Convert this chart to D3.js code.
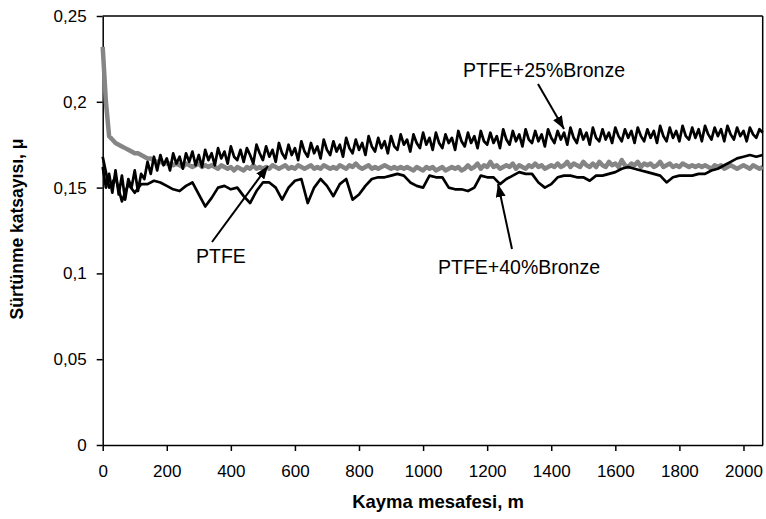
<!DOCTYPE html>
<html>
<head>
<meta charset="utf-8">
<script src="https://cdn.jsdelivr.net/npm/d3@7"></script>
<style>
  body { margin: 0; background: #fff; }
  svg { display: block; font-family: "Liberation Sans", Arial, sans-serif; }
</style>
</head>
<body>
<svg id="chart" width="766" height="519"></svg>
<script>
// sliding distance steps (m)
const stepFine = 10;
const stepCoarse = 20;

// PTFE (grey), every 10 m from 0 to 2060
const ptfe = [
  0.232, 0.200, 0.180, 0.178, 0.176, 0.175, 0.174, 0.173, 0.172, 0.171, 0.170,
  0.170, 0.169, 0.168, 0.167, 0.167, 0.166, 0.165, 0.165, 0.164, 0.164,
  0.164, 0.163, 0.164, 0.163, 0.162, 0.164, 0.163, 0.162, 0.163, 0.164, 0.162, 0.163, 0.162, 0.163, 0.162,
  0.161, 0.163, 0.162, 0.161, 0.162, 0.160, 0.162, 0.161, 0.160, 0.162, 0.161, 0.163, 0.161, 0.162, 0.161,
  0.162, 0.161, 0.163, 0.162, 0.161, 0.162, 0.163, 0.161, 0.162, 0.161, 0.163, 0.162, 0.161, 0.162, 0.163,
  0.161, 0.162, 0.161, 0.163, 0.162, 0.161, 0.162, 0.161, 0.163, 0.162, 0.161, 0.163, 0.162, 0.164, 0.162,
  0.161, 0.162, 0.163, 0.161, 0.162, 0.161, 0.162, 0.163, 0.162, 0.161, 0.162, 0.161, 0.162, 0.161, 0.162,
  0.161, 0.160, 0.162, 0.161, 0.160, 0.162, 0.161, 0.162, 0.160, 0.161, 0.162, 0.160, 0.161, 0.162, 0.161,
  0.162, 0.160, 0.161, 0.163, 0.161, 0.162, 0.164, 0.161, 0.163, 0.162, 0.165, 0.162, 0.163, 0.161, 0.162,
  0.163, 0.162, 0.164, 0.161, 0.163, 0.162, 0.161, 0.163, 0.162, 0.164, 0.162, 0.163, 0.161, 0.162, 0.163,
  0.162, 0.164, 0.162, 0.163, 0.165, 0.162, 0.164, 0.163, 0.162, 0.165, 0.163, 0.162, 0.164, 0.162, 0.165,
  0.163, 0.162, 0.165, 0.163, 0.164, 0.162, 0.166, 0.163, 0.162, 0.164, 0.163, 0.165, 0.162, 0.164, 0.163,
  0.164, 0.162, 0.163, 0.165, 0.162, 0.163, 0.164, 0.162, 0.163, 0.162, 0.164, 0.163, 0.162, 0.163, 0.162,
  0.163, 0.162, 0.163, 0.162, 0.161, 0.163, 0.162, 0.163, 0.161, 0.162, 0.163, 0.162, 0.161, 0.162, 0.163,
  0.162, 0.161, 0.163, 0.162, 0.161, 0.162
];

// PTFE+25%Bronze, every 10 m from 0 to 2060
const ptfe25 = [
  0.162, 0.150, 0.158, 0.147, 0.160, 0.146, 0.157, 0.143, 0.155, 0.150, 0.160, 0.148, 0.158, 0.155, 0.165, 0.158, 0.168,
  0.160, 0.169, 0.163, 0.167, 0.160, 0.170, 0.164, 0.168, 0.161, 0.170, 0.165, 0.171, 0.163, 0.169,
  0.162, 0.172, 0.166, 0.170, 0.163, 0.173, 0.167, 0.171, 0.164, 0.174, 0.168, 0.166, 0.172, 0.165, 0.173,
  0.169, 0.164, 0.175, 0.170, 0.166, 0.174, 0.168, 0.172, 0.165, 0.176, 0.170, 0.167, 0.175, 0.169, 0.173,
  0.166, 0.177, 0.171, 0.168, 0.176, 0.170, 0.174, 0.167, 0.178, 0.172, 0.169, 0.177, 0.171, 0.175, 0.168,
  0.179, 0.173, 0.170, 0.178, 0.172, 0.176, 0.169, 0.180, 0.174, 0.171, 0.179, 0.173, 0.177, 0.170, 0.180,
  0.174, 0.172, 0.181, 0.175, 0.178, 0.171, 0.181, 0.176, 0.173, 0.182, 0.175, 0.179, 0.172, 0.182, 0.176,
  0.173, 0.181, 0.176, 0.179, 0.172, 0.183, 0.177, 0.174, 0.182, 0.176, 0.180, 0.173, 0.183, 0.177, 0.175,
  0.182, 0.176, 0.180, 0.173, 0.184, 0.178, 0.175, 0.183, 0.177, 0.181, 0.174, 0.184, 0.178, 0.176, 0.183,
  0.177, 0.181, 0.174, 0.184, 0.179, 0.176, 0.183, 0.178, 0.182, 0.175, 0.185, 0.179, 0.176, 0.184, 0.178,
  0.182, 0.175, 0.185, 0.179, 0.177, 0.184, 0.178, 0.182, 0.176, 0.185, 0.180, 0.177, 0.184, 0.179, 0.183,
  0.176, 0.185, 0.180, 0.177, 0.184, 0.179, 0.183, 0.176, 0.186, 0.180, 0.177, 0.185, 0.179, 0.183, 0.177,
  0.186, 0.180, 0.178, 0.185, 0.179, 0.184, 0.177, 0.186, 0.181, 0.178, 0.185, 0.180, 0.184, 0.177, 0.186,
  0.181, 0.178, 0.185, 0.180, 0.183, 0.177, 0.185, 0.181, 0.179, 0.184, 0.182
];

// PTFE+40%Bronze, every 20 m from 0 to 2060
const ptfe40 = [
  0.168, 0.150, 0.156, 0.142, 0.152, 0.147, 0.152, 0.152, 0.154, 0.153,
  0.151, 0.149, 0.148, 0.151, 0.153, 0.146, 0.139, 0.144, 0.150, 0.151,
  0.149, 0.150, 0.145, 0.141, 0.148, 0.153, 0.153, 0.150, 0.143, 0.150,
  0.154, 0.155, 0.141, 0.150, 0.155, 0.151, 0.145, 0.152, 0.155, 0.143,
  0.146, 0.151, 0.155, 0.156, 0.156, 0.157, 0.158, 0.157, 0.153, 0.151,
  0.150, 0.157, 0.156, 0.156, 0.150, 0.149, 0.149, 0.148, 0.150, 0.157,
  0.156, 0.156, 0.152, 0.155, 0.157, 0.159, 0.158, 0.158, 0.153, 0.150,
  0.152, 0.156, 0.157, 0.157, 0.156, 0.156, 0.154, 0.157, 0.157, 0.158,
  0.159, 0.161, 0.162, 0.161, 0.160, 0.159, 0.158, 0.157, 0.153, 0.156,
  0.157, 0.157, 0.157, 0.158, 0.158, 0.160, 0.161, 0.163, 0.165, 0.167,
  0.168, 0.169, 0.168, 0.169
];

const yTicks = [0, 0.05, 0.1, 0.15, 0.2, 0.25];
const xTicks = [0, 200, 400, 600, 800, 1000, 1200, 1400, 1600, 1800, 2000];

const svg = d3.select("#chart");
const plotLeft = 102.7, plotRight = 762.7, plotTop = 16, plotBottom = 445;

const x = d3.scaleLinear().domain([0, 2060]).range([plotLeft, plotRight]);
const y = d3.scaleLinear().domain([0, 0.25]).range([plotBottom, plotTop]);

const fmt = d => String(+d.toFixed(2)).replace(".", ",");

// frame (top and right)
svg.append("line").attr("x1", plotLeft).attr("x2", plotRight).attr("y1", plotTop).attr("y2", plotTop)
    .attr("stroke", "#000").attr("stroke-width", 1.5);
svg.append("line").attr("x1", plotRight).attr("x2", plotRight).attr("y1", plotTop).attr("y2", plotBottom)
    .attr("stroke", "#000").attr("stroke-width", 1.5);

const yAxis = svg.append("g")
    .attr("transform", `translate(${plotLeft},0)`)
    .call(d3.axisLeft(y).tickValues(yTicks).tickFormat(fmt).tickSize(6).tickSizeOuter(0).tickPadding(10));

const xAxis = svg.append("g")
    .attr("transform", `translate(0,${plotBottom})`)
    .call(d3.axisBottom(x).tickValues(xTicks).tickFormat(d3.format("d")).tickSize(6).tickSizeOuter(0).tickPadding(14));

[yAxis, xAxis].forEach(g => {
    g.select(".domain").attr("stroke", "#000").attr("stroke-width", 1.5);
    g.selectAll(".tick line").attr("stroke", "#000").attr("stroke-width", 1.5);
    g.selectAll("text").attr("fill", "#000").style("font-size", "17px")
        .style("font-family", "'Liberation Sans', Arial, sans-serif");
});

// axis titles
svg.append("text")
    .attr("x", 438).attr("y", 508)
    .attr("text-anchor", "middle")
    .style("font-size", "18.5px").style("font-weight", "bold")
    .text("Kayma mesafesi, m");

svg.append("text")
    .attr("transform", "translate(23,229) rotate(-90)")
    .attr("text-anchor", "middle")
    .style("font-size", "17.5px").style("font-weight", "bold")
    .text("Sürtünme katsayısı, μ");

// series
const line = d3.line().x(d => x(d[0])).y(d => y(d[1]));
const toPts = (arr, step) => arr.map((v, i) => [i * step, v]);

const plot = svg.append("g");
plot.append("path")
    .attr("d", line(toPts(ptfe, stepFine)))
    .attr("fill", "none").attr("stroke", "#858585").attr("stroke-width", 4.5)
    .attr("stroke-linejoin", "round");
plot.append("path")
    .attr("d", line(toPts(ptfe40, stepCoarse)))
    .attr("fill", "none").attr("stroke", "#000").attr("stroke-width", 2.7)
    .attr("stroke-linejoin", "round");
plot.append("path")
    .attr("d", line(toPts(ptfe25, stepFine)))
    .attr("fill", "none").attr("stroke", "#000").attr("stroke-width", 2.7)
    .attr("stroke-linejoin", "round");

// annotations
svg.append("defs").append("marker")
    .attr("id", "arrow")
    .attr("markerUnits", "userSpaceOnUse")
    .attr("viewBox", "0 -5 13 10")
    .attr("refX", 13).attr("refY", 0)
    .attr("markerWidth", 13).attr("markerHeight", 10)
    .attr("orient", "auto")
    .append("path").attr("d", "M0,-5L13,0L0,5Z").attr("fill", "#000");

const notes = [
    { text: "PTFE+25%Bronze", tx: 463, ty: 77, from: [538, 84], to: [564, 129] },
    { text: "PTFE", tx: 196, ty: 263, from: [212, 242], to: [268, 166] },
    { text: "PTFE+40%Bronze", tx: 438, ty: 274, from: [512, 249], to: [498, 184] }
];

notes.forEach(n => {
    svg.append("line")
        .attr("x1", n.from[0]).attr("y1", n.from[1])
        .attr("x2", n.to[0]).attr("y2", n.to[1])
        .attr("stroke", "#000").attr("stroke-width", 2)
        .attr("marker-end", "url(#arrow)");
    svg.append("text")
        .attr("x", n.tx).attr("y", n.ty)
        .style("font-size", "19.5px")
        .text(n.text);
});
</script>
</body>
</html>
